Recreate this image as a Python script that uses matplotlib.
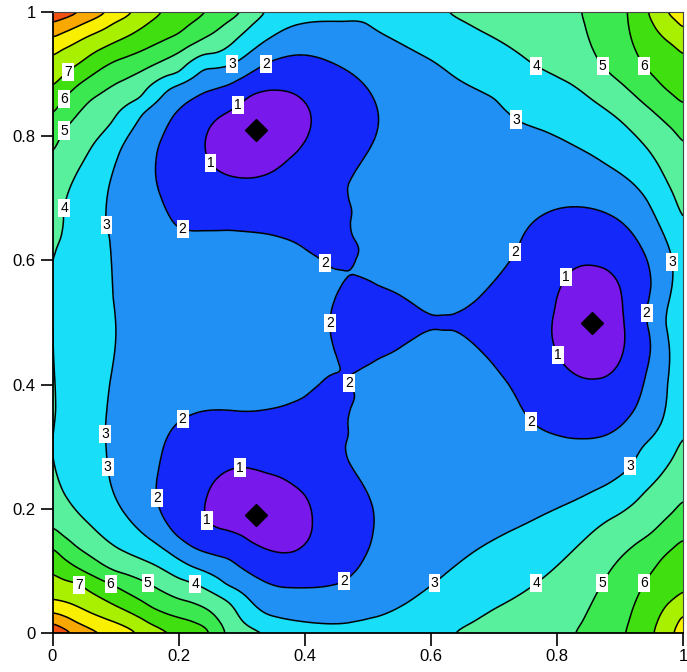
import numpy as np
import matplotlib
matplotlib.use("Agg")
import matplotlib.pyplot as plt

plt.rcParams["font.family"] = ["Liberation Sans", "DejaVu Sans"]

# minima (black diamonds)
min_x = [0.323, 0.856, 0.323]
min_y = [0.810, 0.500, 0.190]

# contour lines: level -> points (x, y)
level_pts = {
    1: [(0.36, 0.873), (0.41, 0.821), (0.371, 0.762), (0.296, 0.734), (0.244, 0.794),
        (0.265, 0.831), (0.31, 0.865),
        (0.824, 0.585), (0.86, 0.59), (0.894, 0.568), (0.906, 0.493), (0.894, 0.428),
        (0.86, 0.41), (0.819, 0.424), (0.797, 0.515),
        (0.246, 0.214), (0.248, 0.171), (0.296, 0.161), (0.376, 0.129), (0.41, 0.187),
        (0.405, 0.214), (0.376, 0.241), (0.334, 0.257), (0.281, 0.262)],
    2: [(0.202, 0.649), (0.175, 0.697), (0.165, 0.762), (0.181, 0.81), (0.213, 0.853),
        (0.255, 0.874), (0.281, 0.883), (0.387, 0.931), (0.44, 0.92),
        (0.487, 0.891), (0.514, 0.847), (0.514, 0.805), (0.492, 0.762), (0.465, 0.713),
        (0.462, 0.649), (0.234, 0.649), (0.281, 0.649), (0.333, 0.644), (0.387, 0.628),
        (0.427, 0.606), (0.437, 0.59), (0.437, 0.412), (0.413, 0.386),
        (0.36, 0.364), (0.308, 0.356), (0.234, 0.356), (0.197, 0.338), (0.18, 0.311),
        (0.17, 0.267), (0.165, 0.214), (0.192, 0.161), (0.223, 0.138), (0.281, 0.12),
        (0.333, 0.085), (0.387, 0.074), (0.492, 0.117), (0.508, 0.16),
        (0.508, 0.203), (0.492, 0.24), (0.468, 0.278), (0.462, 0.31), (0.462, 0.348),
        (0.462, 0.391), (0.482, 0.418), (0.519, 0.444), (0.566, 0.471), (0.619, 0.488),
        (0.462, 0.597), (0.519, 0.557), (0.577, 0.525), (0.619, 0.509),
        (0.645, 0.52), (0.677, 0.541), (0.714, 0.584), (0.751, 0.649),
        (0.783, 0.676), (0.83, 0.686), (0.878, 0.676), (0.915, 0.649), (0.941, 0.606),
        (0.949, 0.552), (0.949, 0.471), (0.941, 0.418), (0.925, 0.364),
        (0.894, 0.327), (0.846, 0.314), (0.804, 0.318), (0.73, 0.391),
        (0.698, 0.434), (0.662, 0.471), (0.645, 0.483)],
    3: [(0.313, 0.935), (0.349, 0.96), (0.403, 0.983), (0.455, 0.985),
        (0.508, 0.972), (0.562, 0.944), (0.609, 0.918), (0.645, 0.89), (0.698, 0.864),
        (0.777, 0.81), (0.83, 0.783), (0.883, 0.751), (0.936, 0.708),
        (0.965, 0.65), (0.972, 0.5), (0.975, 0.4), (0.962, 0.33),
        (0.93, 0.295), (0.883, 0.241), (0.83, 0.214), (0.751, 0.176),
        (0.698, 0.149), (0.645, 0.113), (0.562, 0.048), (0.492, 0.024),
        (0.413, 0.016), (0.333, 0.032), (0.281, 0.07), (0.223, 0.105), (0.17, 0.14),
        (0.128, 0.176), (0.102, 0.214), (0.086, 0.315), (0.091, 0.402),
        (0.096, 0.541), (0.091, 0.649), (0.091, 0.725), (0.112, 0.789), (0.144, 0.842),
        (0.192, 0.886), (0.245, 0.915)],
    4: [(0.004, 0.36), (0.004, 0.62), (0.017, 0.649), (0.028, 0.718),
        (0.054, 0.767), (0.091, 0.815), (0.139, 0.858), (0.197, 0.896), (0.255, 0.93),
        (0.3, 0.965), (0.335, 1.0), (0.63, 1.0), (0.67, 0.975),
        (0.83, 0.88), (0.894, 0.831), (0.941, 0.783), (0.973, 0.729), (0.994, 0.686),
        (0.994, 0.3), (0.941, 0.23), (0.872, 0.176), (0.698, 0.037),
        (0.64, 0.0), (0.334, 0.0), (0.281, 0.055), (0.17, 0.106),
        (0.117, 0.13), (0.065, 0.17), (0.022, 0.219), (0.007, 0.251)],
    5: [(0.004, 0.783), (0.054, 0.853), (0.102, 0.886), (0.154, 0.912),
        (0.213, 0.944), (0.26, 0.971), (0.297, 1.0), (0.84, 1.0),
        (0.909, 0.88), (0.951, 0.842), (0.995, 0.8), (0.995, 0.205), (0.951, 0.16),
        (0.83, 0.0), (0.091, 0.101), (0.038, 0.138),
        (0.004, 0.165), (0.202, 0.053), (0.27, 0.0)],
    6: [(0.004, 0.842), (0.044, 0.886), (0.091, 0.918), (0.144, 0.939),
        (0.202, 0.966), (0.24, 1.0), (0.912, 1.0), (0.973, 0.875),
        (1.0, 0.855), (0.909, 0.0), (0.973, 0.128), (1.0, 0.148),
        (0.004, 0.133), (0.044, 0.101), (0.154, 0.042), (0.213, 0.021),
        (0.25, 0.0)],
    7: [(0.007, 0.889), (0.049, 0.921), (0.091, 0.947), (0.123, 0.963),
        (0.17, 1.0), (0.007, 0.09), (0.102, 0.042), (0.139, 0.025),
        (0.18, 0.0), (0.946, 1.0), (0.99, 0.945), (0.955, 0.0), (0.998, 0.06)],
    8: [(0.007, 0.937), (0.049, 0.959), (0.102, 0.986), (0.125, 1.0), (0.002, 0.053),
        (0.049, 0.037), (0.102, 0.016), (0.13, 0.0), (0.975, 1.0), (1.0, 0.975),
        (0.985, 0.0), (1.0, 0.028)],
    9: [(0.007, 0.963), (0.044, 0.979), (0.075, 0.995), (0.002, 0.029), (0.049, 0.01)],
    10: [(0.007, 0.986), (0.028, 0.995), (0.002, 0.017), (0.02, 0.005)],
}

# label boxes, which sit on their contour line
label_pos = {
    1: [(0.297, 0.847), (0.251, 0.757), (0.815, 0.572), (0.802, 0.448), (0.297, 0.267), (0.251, 0.185)],
    2: [(0.338, 0.918), (0.207, 0.652), (0.447, 0.613), (0.44, 0.499), (0.474, 0.404), (0.735, 0.613),
        (0.941, 0.515), (0.759, 0.34), (0.207, 0.343), (0.167, 0.218), (0.463, 0.082)],
    3: [(0.285, 0.915), (0.735, 0.826), (0.083, 0.657), (0.983, 0.597), (0.082, 0.32),
        (0.088, 0.267), (0.918, 0.267), (0.606, 0.08)],
    4: [(0.767, 0.913), (0.018, 0.684), (0.227, 0.08), (0.767, 0.08)],
    5: [(0.872, 0.913), (0.018, 0.81), (0.151, 0.08), (0.872, 0.08)],
    6: [(0.938, 0.913), (0.018, 0.861), (0.093, 0.08), (0.938, 0.08)],
    7: [(0.025, 0.903), (0.044, 0.08)],
}
# label boxes not used to shape the surface (they sit on a narrow channel)
skip_fit = [(0.447, 0.613), (0.474, 0.404)]

# single values
spot_x = [0.323, 0.856, 0.323, 0.50, 0.62, 0.25, 0.58, 0.58,
          0.45, 0.453, 0.45, 0.453,
          0.0, 1.0, 0.5, 0.5, 0.0, 0.0, 1.0, 1.0]
spot_y = [0.810, 0.500, 0.190, 0.50, 0.50, 0.50, 0.72, 0.28,
          0.62, 0.675, 0.38, 0.325,
          0.5, 0.5, 1.0, 0.0, 1.0, 0.0, 1.0, 0.0]
spot_v = [0.3, 0.3, 0.3, 1.75, 1.99, 2.6, 2.5, 2.5,
          1.75, 1.8, 1.75, 1.8,
          4.0, 3.95, 3.05, 3.1, 10.5, 10.5, 8.3, 8.3]

levels = [1, 2, 3, 4, 5, 6, 7, 8, 9, 10, 11]
band_colors = ["#7818EA", "#1428FA", "#2090F4", "#18DEF8", "#58F09C", "#3CE850",
               "#40E010", "#A8F000", "#F8F000", "#F8A800", "#F05010", "#E01000"]


def fit_grid(px, py, pv, n=51, smooth=1.0):
    # least squares surface on an n x n grid: match the read values, keep it smooth
    h = 1.0 / (n - 1)
    fx = np.clip(px / h, 0, n - 1 - 1e-9)
    fy = np.clip(py / h, 0, n - 1 - 1e-9)
    i = np.minimum(fx.astype(int), n - 2)
    j = np.minimum(fy.astype(int), n - 2)
    tx, ty = fx - i, fy - j
    A = np.zeros((len(px), n * n))
    r = np.arange(len(px))
    A[r, j * n + i] += (1 - tx) * (1 - ty)
    A[r, j * n + i + 1] += tx * (1 - ty)
    A[r, (j + 1) * n + i] += (1 - tx) * ty
    A[r, (j + 1) * n + i + 1] += tx * ty

    d2 = np.diff(np.eye(n), 2, axis=0)
    d1 = np.diff(np.eye(n), 1, axis=0)
    L = d2.T @ d2
    M = d1.T @ d1
    I = np.eye(n)
    R = np.kron(I, L) + np.kron(L, I) + 2 * np.kron(M, M)
    N = A.T @ A + smooth ** 2 * R
    z = np.linalg.solve(N, A.T @ pv)
    return z.reshape(n, n)


def upsample(Z, m, axis):
    # Catmull-Rom resampling along one axis
    n = Z.shape[axis]
    t = np.linspace(0, n - 1, m)
    i = np.clip(np.floor(t).astype(int), 0, n - 2)
    f = t - i
    p = [np.take(Z, np.clip(i + k, 0, n - 1), axis=axis) for k in (-1, 0, 1, 2)]
    f = f[:, None] if axis == 0 else f[None, :]
    return 0.5 * (2 * p[1] + (p[2] - p[0]) * f
                  + (2 * p[0] - 5 * p[1] + 4 * p[2] - p[3]) * f ** 2
                  + (-p[0] + 3 * p[1] - 3 * p[2] + p[3]) * f ** 3)


px, py, pv = [], [], []
for src in (level_pts, label_pos):
    for lev, pts in src.items():
        for x, y in pts:
            if src is label_pos and (x, y) in skip_fit:
                continue
            px.append(x)
            py.append(y)
            pv.append(lev)
px = np.array(px + spot_x)
py = np.array(py + spot_y)
pv = np.array(pv + spot_v, dtype=float)

Zc = fit_grid(px, py, pv, n=51, smooth=0.25)
Z = upsample(upsample(Zc, 251, 0), 251, 1)
gx = np.linspace(0, 1, 251)
X, Y = np.meshgrid(gx, gx)

fig = plt.figure(figsize=(6.87, 6.72), dpi=100)
ax = fig.add_axes([52.5 / 687, 39.3 / 672, 630.5 / 687, 620.4 / 672])

fill_levels = [-100] + levels + [100]
ax.contourf(X, Y, Z, levels=fill_levels, colors=band_colors)

# one contour set per level, so labels can be put by hand on the right line
label_texts = []
for lev in levels:
    cs = ax.contour(X, Y, Z, levels=[lev], colors="black", linewidths=1.1)
    if lev in label_pos and len(cs.allsegs[0]) > 0:
        label_texts += ax.clabel(cs, manual=label_pos[lev], inline=False, fmt="%d",
                                 fontsize=10, colors="black")

for t in label_texts:
    t.set_rotation(0)
    t.set_bbox(dict(boxstyle="square,pad=0.15", facecolor="white", edgecolor="none"))

ax.plot(min_x, min_y, "D", color="black", markersize=11, zorder=5)

ticks = [0, 0.2, 0.4, 0.6, 0.8, 1]
tick_text = ["0", "0.2", "0.4", "0.6", "0.8", "1"]
ax.set_xlim(0, 1)
ax.set_ylim(0, 1)
ax.set_xticks(ticks)
ax.set_xticklabels(tick_text)
ax.set_yticks(ticks)
ax.set_yticklabels(tick_text)
ax.tick_params(direction="out", length=9, width=1.2, labelsize=12, pad=3)
for side in ["left", "bottom"]:
    ax.spines[side].set_linewidth(1.3)
for side in ["top", "right"]:
    ax.spines[side].set_linewidth(0.8)
    ax.spines[side].set_color("#444444")

fig.savefig("out.png", dpi=100)
